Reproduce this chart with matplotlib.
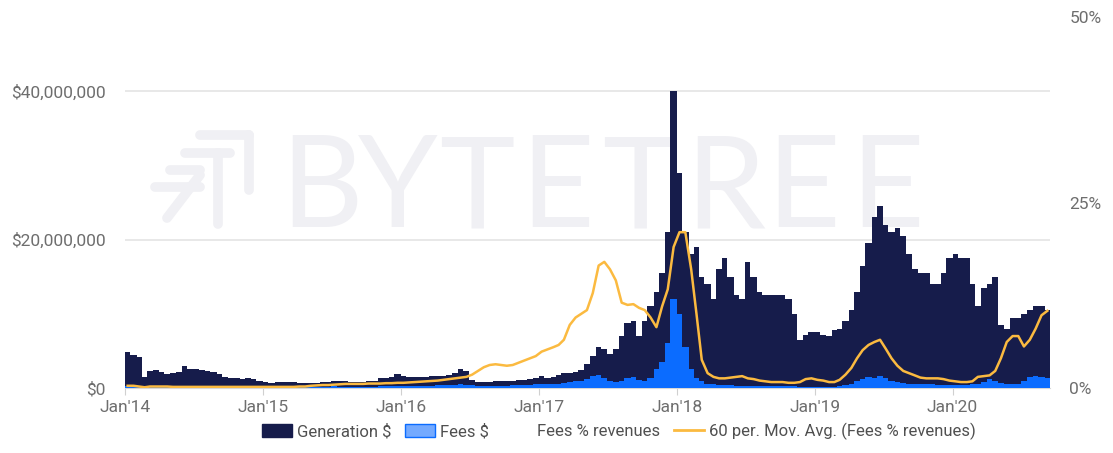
import numpy as np
import pandas as pd
import matplotlib
matplotlib.use("Agg")
import matplotlib.pyplot as plt
import matplotlib.dates as mdates
from matplotlib.patches import Patch
from matplotlib.lines import Line2D

plt.rcParams["font.family"] = ["Roboto", "DejaVu Sans"]

# semi-monthly periods (1st and 15th), Jan 2014 .. Sep 2020
period_start = pd.date_range("2014-01-01", "2020-09-01", freq="SMS")
period_end = pd.Timestamp("2020-09-15")

# Generation $ (millions of USD)
generation_musd = [
    4.8, 4.5, 4.2, 1.5, 2.3, 2.4, 2.1, 1.9, 2.0, 2.2, 2.9, 2.6, 2.5, 2.4, 2.3, 2.1, 1.9, 1.5, 1.3, 1.3, 1.2, 1.3, 1.2, 1.0,
    0.8, 0.7, 0.8, 0.8, 0.8, 0.8, 0.7, 0.7, 0.7, 0.7, 0.8, 0.8, 0.9, 0.9, 0.9, 0.8, 0.8, 0.8, 0.9, 1.0, 1.4, 1.3, 1.5, 1.9,
    1.6, 1.5, 1.5, 1.5, 1.5, 1.6, 1.6, 1.6, 1.7, 2.0, 2.6, 2.3, 1.1, 0.8, 0.8, 0.8, 0.9, 0.9, 1.0, 1.0, 1.1, 1.1, 1.2, 1.4,
    1.6, 1.4, 1.5, 1.7, 2.0, 2.0, 2.1, 2.4, 3.2, 4.3, 5.5, 5.2, 4.6, 5.2, 7.0, 8.8, 9.0, 7.0, 9.0, 11.0, 13.0, 15.5, 21.0, 40.0,
    29.0, 21.0, 18.0, 19.0, 15.0, 14.0, 12.0, 16.0, 17.5, 15.0, 12.5, 12.0, 17.0, 15.0, 13.0, 12.5, 12.5, 12.5, 12.5, 12.0, 10.0, 6.5, 7.2, 7.5,
    7.5, 7.2, 7.0, 7.8, 8.0, 9.0, 10.5, 13.0, 16.5, 19.5, 23.0, 24.5, 22.0, 21.0, 21.5, 20.5, 18.0, 16.0, 15.5, 15.5, 14.0, 14.0, 15.5, 17.5,
    18.0, 17.5, 17.5, 14.0, 11.0, 13.5, 14.0, 15.0, 8.5, 8.0, 9.5, 9.5, 10.0, 10.5, 11.0, 11.0, 10.5,
]

# Fees $ (millions of USD)
fees_musd = [
    0.25, 0.2, 0.15, 0.1, 0.12, 0.12, 0.12, 0.12, 0.12, 0.12, 0.12, 0.12, 0.12, 0.12, 0.12, 0.12, 0.1, 0.1, 0.1, 0.1, 0.1, 0.1, 0.1, 0.1,
    0.1, 0.1, 0.1, 0.1, 0.1, 0.1, 0.1, 0.1, 0.1, 0.1, 0.12, 0.15, 0.25, 0.2, 0.15, 0.15, 0.2, 0.2, 0.2, 0.2, 0.25, 0.25, 0.3, 0.3,
    0.3, 0.3, 0.3, 0.3, 0.3, 0.3, 0.35, 0.35, 0.35, 0.4, 0.5, 0.45, 0.35, 0.3, 0.3, 0.3, 0.3, 0.3, 0.3, 0.35, 0.4, 0.4, 0.45, 0.5,
    0.6, 0.5, 0.5, 0.6, 0.7, 0.8, 0.9, 1.0, 1.2, 1.6, 1.8, 1.3, 0.9, 0.8, 1.0, 1.4, 1.5, 1.1, 1.0, 1.4, 2.5, 3.5, 6.0, 12.0,
    10.0, 5.5, 2.5, 1.3, 0.9, 0.6, 0.5, 0.4, 0.4, 0.35, 0.3, 0.3, 0.3, 0.3, 0.25, 0.25, 0.25, 0.25, 0.25, 0.3, 0.3, 0.2, 0.2, 0.2,
    0.2, 0.2, 0.2, 0.2, 0.3, 0.4, 0.6, 1.0, 1.2, 1.5, 1.4, 1.6, 1.3, 1.0, 0.8, 0.7, 0.6, 0.5, 0.5, 0.5, 0.5, 0.45, 0.4, 0.4,
    0.4, 0.4, 0.45, 0.5, 0.6, 0.8, 1.2, 1.0, 0.7, 0.5, 0.5, 0.6, 1.0, 1.5, 1.6, 1.5, 1.3,
]

# 60 per. Mov. Avg. (Fees % revenues), in %
fees_pct_ma60 = [
    0.3, 0.3, 0.2, 0.1, 0.2, 0.2, 0.2, 0.2, 0.15, 0.15, 0.15, 0.15, 0.15, 0.15, 0.15, 0.15, 0.15, 0.15, 0.15, 0.15, 0.15, 0.15, 0.15, 0.15,
    0.15, 0.15, 0.15, 0.15, 0.15, 0.15, 0.2, 0.2, 0.3, 0.35, 0.4, 0.4, 0.45, 0.5, 0.55, 0.55, 0.55, 0.55, 0.6, 0.6, 0.6, 0.65, 0.65, 0.7,
    0.7, 0.75, 0.8, 0.85, 0.9, 0.95, 1.0, 1.1, 1.2, 1.3, 1.4, 1.5, 1.8, 2.3, 2.8, 3.1, 3.2, 3.1, 3.0, 3.1, 3.4, 3.7, 4.0, 4.3,
    4.9, 5.2, 5.5, 5.8, 6.5, 8.5, 9.5, 10.0, 10.5, 12.8, 16.5, 17.0, 16.0, 14.5, 11.5, 11.2, 11.3, 10.8, 10.5, 9.5, 8.2, 11.0, 13.3, 19.0,
    21.0, 21.0, 16.0, 10.0, 3.8, 2.0, 1.5, 1.3, 1.3, 1.4, 1.5, 1.6, 1.3, 1.2, 1.0, 0.9, 0.8, 0.8, 0.8, 0.7, 0.7, 0.8, 1.2, 1.3,
    1.1, 1.0, 0.8, 0.8, 1.1, 1.8, 2.7, 4.0, 5.1, 5.8, 6.2, 6.5, 5.3, 4.0, 3.0, 2.3, 2.0, 1.7, 1.4, 1.3, 1.3, 1.3, 1.2, 1.0,
    0.9, 0.8, 0.8, 0.9, 1.5, 1.6, 1.7, 2.3, 4.0, 6.2, 7.0, 7.0, 5.6, 6.5, 8.0, 9.8, 10.4,
]

left_ticks = [0, 20e6, 40e6]
left_labels = ["$0", "$20,000,000", "$40,000,000"]
right_ticks = [0, 25, 50]
right_labels = ["0%", "25%", "50%"]
year_ticks = pd.date_range("2014-01-01", "2020-01-01", freq="YS")
year_labels = ["Jan'14", "Jan'15", "Jan'16", "Jan'17", "Jan'18", "Jan'19", "Jan'20"]

NAVY = "#161c4b"
BLUE = "#0b6cff"
LIGHT_BLUE = "#74aaff"
ORANGE = "#fbba40"
GRID = "#e4e4e4"
TICK_TXT = "#6e6e6e"
LEG_TXT = "#505050"
MARK = "#f0f0f4"

x = mdates.date2num(period_start)
w = np.diff(np.append(x, mdates.date2num(period_end)))
gen = np.array(generation_musd) * 1e6
fees = np.array(fees_musd) * 1e6

fig = plt.figure(figsize=(11.13, 4.53), dpi=100)
ax = fig.add_axes([125 / 1113, 1 - 388 / 453, 925 / 1113, 371 / 453])

# watermark: logo strokes + spaced letters
mk = dict(color=MARK, lw=7, solid_capstyle="round", transform=ax.transAxes, clip_on=False, zorder=0.2)
def px(xp, yp):
    return (xp - 125) / 925, (388 - yp) / 371
for seg in [((200, 135), (249, 135)), ((249, 135), (249, 190)),
            ((185, 153), (230, 153)), ((218, 153), (218, 224)),
            ((170, 170), (200, 170)), ((155, 187), (200, 187)),
            ((200, 175), (167, 218))]:
    (x0, y0), (x1, y1) = px(*seg[0]), px(*seg[1])
    ax.plot([x0, x1], [y0, y1], **mk)
for ch, cx in zip("BYTETREE", [322, 398, 477, 557, 640, 725, 803, 887]):
    ax.text(*px(cx, 227), ch, transform=ax.transAxes, ha="center", va="baseline",
            fontsize=92, color=MARK, family=["Lato", "DejaVu Sans"], fontweight="normal", zorder=0.2)

ax.bar(x, gen, width=w, align="edge", color=NAVY, linewidth=0, zorder=2)
ax.bar(x, fees, width=w, align="edge", color=BLUE, linewidth=0, zorder=3)

ax.set_ylim(0, 50e6)
ax.set_xlim(mdates.date2num(pd.Timestamp("2014-01-01")), mdates.date2num(period_end))
ax.set_yticks(left_ticks)
ax.set_yticklabels(left_labels)
ax.set_xticks(mdates.date2num(year_ticks))
ax.set_xticklabels(year_labels)
ax.yaxis.grid(True, color=GRID, lw=1.2)
ax.set_axisbelow(True)
for s in ["top", "right", "left"]:
    ax.spines[s].set_visible(False)
ax.spines["bottom"].set_color("#d8d8d8")
ax.tick_params(axis="y", length=0, pad=14, labelsize=12.5, labelcolor=TICK_TXT)
ax.tick_params(axis="x", length=5, color="#d0d0d0", pad=4, labelsize=12.5, labelcolor=TICK_TXT)

ax2 = ax.twinx()
ax2.plot(x + w / 2, fees_pct_ma60, color=ORANGE, lw=1.8, zorder=4)
ax2.set_ylim(0, 50)
ax2.set_yticks(right_ticks)
ax2.set_yticklabels(right_labels)
for s in ax2.spines.values():
    s.set_visible(False)
ax2.tick_params(axis="y", length=0, pad=14, labelsize=12.5, labelcolor=TICK_TXT)

handles = [Patch(facecolor=NAVY, edgecolor=NAVY),
           Patch(facecolor=LIGHT_BLUE, edgecolor=BLUE),
           Line2D([], [], linestyle="none"),
           Line2D([], [], color=ORANGE, lw=2)]
labels = ["Generation $", "Fees $", "Fees % revenues", "60 per. Mov. Avg. (Fees % revenues)"]
leg = fig.legend(handles, labels, loc="lower center", bbox_to_anchor=(0.556, -0.005), ncol=4,
                 frameon=False, fontsize=12, handlelength=1.8, handleheight=0.8,
                 handletextpad=0.3, columnspacing=0.8)
for t in leg.get_texts():
    t.set_color(LEG_TXT)

fig.savefig("out.png", dpi=100)
